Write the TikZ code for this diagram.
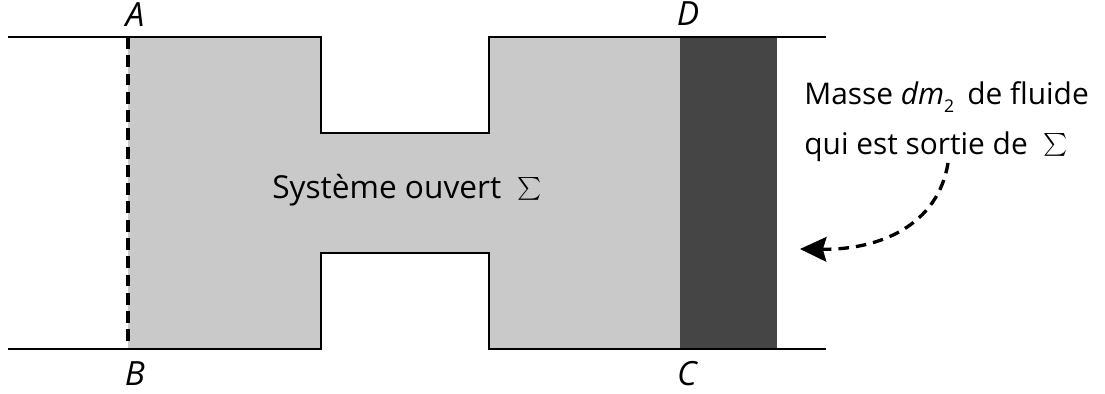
\documentclass[tikz,border=0pt]{standalone}
\usepackage{fontspec}
\setmainfont{Open Sans}
\usetikzlibrary{arrows.meta}
\tikzset{
  wall/.style={line width=1.1pt},
  label/.style={font=\fontsize{17}{20}\selectfont,inner sep=0pt,anchor=base west},
  corner/.style={font=\fontsize{19}{20}\selectfont\itshape,inner sep=0pt,anchor=base},
}
\newcommand{\bigsum}{\scalebox{1.3}{$\sum$}}
\definecolor{fluid}{gray}{0.79}
\definecolor{sortie}{gray}{0.27}
\begin{document}
\begin{tikzpicture}[x=0.02cm,y=-0.02cm]
			\useasboundingbox (0,0) rectangle (1105,394);
            % pipe outline, left to right
			\coordinate (A) at (128,37);
			\coordinate (B) at (128,349);
			\coordinate (D) at (680,37);
			\coordinate (C) at (680,349);
            \coordinate (F) at (777,349);
			\fill[fluid] (A) -- (321,37) -- (321,133) -- (489,133) -- (489,37) -- (D) -- (C) -- (489,349) -- (489,253) -- (321,253) -- (321,349) -- (B) -- cycle;
            \fill[sortie] (D) rectangle (F);
			\draw[wall] (8,37) -- (321,37) -- (321,133) -- (489,133) -- (489,37) -- (826,37);
			\draw[wall] (8,349) -- (321,349) -- (321,253) -- (489,253) -- (489,349) -- (826,349);
            \draw[line width=1.9pt,dash pattern=on 6.8pt off 3.6pt] (A) -- (B);
            % labels, placed on their baselines
			\node[corner] (la) at (135,27) {A};
			\node[corner] (lb) at (135,386) {B};
			\node[corner] (ld) at (688,26) {D};
			\node[corner] (lc) at (687,386) {C};
			\node[label,font=\fontsize{18}{20}\selectfont] (sys) at (272,199) {Système ouvert\hspace{9pt}\bigsum};
			\node[label] (m1) at (804,105) {Masse \textit{dm}\raisebox{-4pt}{\fontsize{10}{10}\selectfont 2}\hspace{3pt} de fluide};
			\node[label] (m2) at (804,155) {qui est sortie de\hspace{9pt}\bigsum};
            \coordinate (P) at (948,163);
            \coordinate (Q) at (800,249);
            \draw[line width=1.9pt,dash pattern=on 6pt off 4pt,-{Stealth[length=15pt,width=14pt,inset=2pt]}] (P) .. controls (938,225) and (880,250) .. (Q);
		\end{tikzpicture}
\end{document}
